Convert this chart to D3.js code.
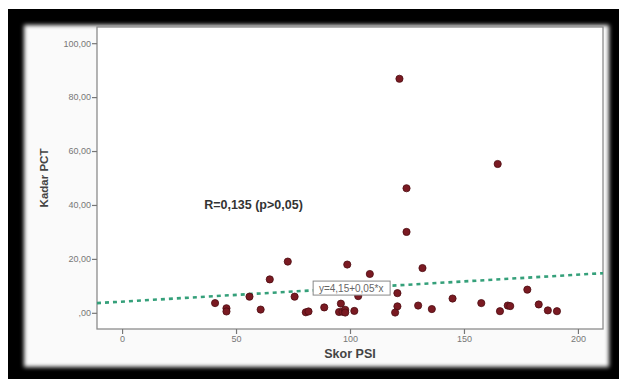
<!DOCTYPE html>
<html>
<head>
<meta charset="utf-8">
<script src="https://cdn.jsdelivr.net/npm/d3@7"></script>
<style>
  body { margin: 0; background: #fff; }
  text { font-family: "Liberation Sans", Arial, sans-serif; }
</style>
</head>
<body>
<div id="app"></div>
<script>
const W = 619, H = 379;
const margin = { top: 27, right: 16, bottom: 50, left: 97 };

// Skor PSI (x) and Kadar PCT (y)
const psi = [121.7, 164.8, 124.8, 124.8, 72.7, 98.8, 131.8, 108.7, 64.8, 177.8,
             120.8, 55.9, 75.7, 103.6, 145.0, 40.8, 96.0, 157.6, 182.8, 129.9,
             120.8, 169.2, 170.3, 88.7, 45.8, 45.8, 60.8, 135.9, 101.9, 95.2,
             96.7, 97.9, 97.9, 80.6, 81.8, 119.8, 165.8, 186.8, 190.8];
const pct = [86.8, 55.2, 46.2, 30.0, 19.0, 17.9, 16.6, 14.4, 12.4, 8.6,
             7.3, 6.0, 6.0, 6.2, 5.3, 3.6, 3.4, 3.6, 3.1, 2.7,
             2.4, 2.7, 2.5, 2.0, 1.7, 0.5, 1.2, 1.4, 0.7, 0.3,
             0.4, 1.1, 0.1, 0.2, 0.5, 0.1, 0.6, 0.9, 0.6];
const xTicks = [0, 50, 100, 150, 200];
const xTickLabels = ["0", "50", "100", "150", "200"];
const yTicks = [0, 20, 40, 60, 80, 100];
const yTickLabels = [",00", "20,00", "40,00", "60,00", "80,00", "100,00"];
const fit = { a: 4.15, b: 0.05, label: "y=4,15+0,05*x", labelAt: 100.5 };
const rText = "R=0,135 (p>0,05)";

const svg = d3.select("#app").append("svg")
  .attr("width", W).attr("height", H);

const defs = svg.append("defs");
defs.append("filter").attr("id", "soft")
  .attr("x", "-5%").attr("y", "-5%").attr("width", "110%").attr("height", "110%")
  .append("feGaussianBlur").attr("stdDeviation", 2.2);

/* frame */
svg.append("rect").attr("x", 8).attr("y", 9).attr("width", W - 8).attr("height", H - 9)
  .attr("fill", "#000");
svg.append("rect").attr("x", 24).attr("y", 25).attr("width", 585).attr("height", 342)
  .attr("fill", "#fafafa").attr("filter", "url(#soft)");

const pw = W - margin.left - margin.right,
      ph = H - margin.top - margin.bottom;

const xScale = d3.scaleLinear().domain([-11, 211]).range([0, pw]);
const yScale = d3.scaleLinear().domain([-6, 106]).range([ph, 0]);

const g = svg.append("g").attr("transform", `translate(${margin.left},${margin.top})`);

g.append("rect").attr("width", pw).attr("height", ph)
  .attr("fill", "#fff").attr("stroke", "#8c8c8c").attr("stroke-width", 1.3);

/* axes */
const xAxis = g.append("g").attr("transform", `translate(0,${ph})`)
  .call(d3.axisBottom(xScale).tickValues(xTicks).tickSize(5).tickPadding(2)
    .tickFormat((d, i) => xTickLabels[i]));
const yAxis = g.append("g")
  .call(d3.axisLeft(yScale).tickValues(yTicks).tickSize(5).tickPadding(1)
    .tickFormat((d, i) => yTickLabels[i]));
[xAxis, yAxis].forEach(a => {
  a.select(".domain").remove();
  a.selectAll("line").attr("stroke", "#777").attr("stroke-width", 1.2);
  a.selectAll("text").attr("fill", "#777").style("font-size", "9px");
});

/* fit line */
const line = d3.line().x(d => xScale(d)).y(d => yScale(fit.a + fit.b * d));
g.append("path").datum(xScale.domain())
  .attr("d", line)
  .attr("fill", "none").attr("stroke", "#35a07a")
  .attr("stroke-width", 2.6).attr("stroke-dasharray", "4,4");

/* points */
g.selectAll(".dot").data(psi).enter().append("circle")
  .attr("class", "dot")
  .attr("cx", d => xScale(d))
  .attr("cy", (d, i) => yScale(pct[i]))
  .attr("r", 3.6)
  .attr("fill", "#7a1a22").attr("stroke", "#4d0d12").attr("stroke-width", 0.8);

/* fit label */
const lx = xScale(fit.labelAt), ly = yScale(fit.a + fit.b * fit.labelAt);
const lab = g.append("g").attr("transform", `translate(${lx},${ly})`);
lab.append("rect").attr("x", -38).attr("y", -7).attr("width", 77).attr("height", 14)
  .attr("fill", "#fff").attr("stroke", "#888").attr("stroke-width", 1);
lab.append("text").attr("text-anchor", "middle").attr("dy", "0.35em")
  .attr("fill", "#666").style("font-size", "10px").text(fit.label);

/* R annotation */
g.append("text").attr("x", xScale(36)).attr("y", yScale(38.5))
  .attr("fill", "#333").style("font-size", "12.5px").style("font-weight", "bold")
  .text(rText);

/* titles */
svg.append("text").attr("x", margin.left + pw / 2).attr("y", 358)
  .attr("text-anchor", "middle").attr("fill", "#444")
  .style("font-size", "12.5px").style("font-weight", "bold").text("Skor PSI");
svg.append("text")
  .attr("transform", `translate(48,${margin.top + ph / 2}) rotate(-90)`)
  .attr("text-anchor", "middle").attr("fill", "#444")
  .style("font-size", "11.5px").style("font-weight", "bold").text("Kadar PCT");
</script>
</body>
</html>
